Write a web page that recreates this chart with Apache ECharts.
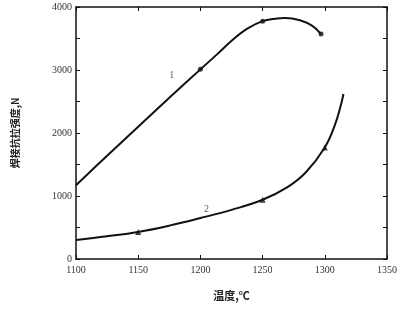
<!DOCTYPE html>
<html><head><meta charset="utf-8">
<script src="https://cdn.jsdelivr.net/npm/echarts@6/dist/echarts.min.js"></script>
<style>html,body{margin:0;padding:0;background:#fff}#c{width:400px;height:321px}</style>
</head><body><div id="c"></div>
<script>
// Curve 1
const curve1X = [1100, 1125, 1150, 1175, 1200, 1214, 1226, 1238, 1250, 1260, 1268, 1280, 1290, 1297];
const curve1Y = [1170, 1640, 2100, 2560, 3010, 3260, 3480, 3660, 3775, 3815, 3825, 3790, 3700, 3570];
const marker1X = [1200, 1250, 1297];
const marker1Y = [3010, 3775, 3570];
// Curve 2
const curve2X = [1100, 1125, 1150, 1175, 1200, 1225, 1250, 1270, 1285, 1300, 1308, 1313, 1315];
const curve2Y = [300, 360, 430, 530, 650, 780, 940, 1140, 1380, 1770, 2120, 2450, 2620];
const marker2X = [1150, 1250, 1300];
const marker2Y = [430, 940, 1770];
const labelsText = ['1', '2'];
const labelsX = [1177, 1205];
const labelsY = [2920, 780];

const pair = (xs, ys) => xs.map((x, i) => [x, ys[i]]);
const font = 'Liberation Serif, DejaVu Serif, serif';
const plain = v => String(v);
const chart = echarts.init(document.getElementById('c'));
const common = {min: 1100, max: 1350, interval: 50};
chart.setOption({
  animation: false,
  backgroundColor: '#fff',
  grid: {left: 76, right: 12, top: 7, bottom: 62},
  xAxis: [
    Object.assign({type: 'value', position: 'bottom', name: '温度,℃', nameLocation: 'middle', nameGap: 31,
      nameTextStyle: {fontFamily: 'Noto Sans CJK SC', fontSize: 11, color: '#222', fontWeight: 'bold'},
      axisLine: {show: true, onZero: false, lineStyle: {color: '#111', width: 1.5}},
      axisTick: {inside: true, length: 4, lineStyle: {color: '#111'}},
      axisLabel: {color: '#333', fontSize: 10, fontFamily: font, margin: 6, formatter: plain},
      splitLine: {show: false}}, common),
    Object.assign({type: 'value', position: 'top',
      axisLine: {show: true, onZero: false, lineStyle: {color: '#111', width: 1.5}},
      axisTick: {inside: true, length: 4, lineStyle: {color: '#111'}},
      axisLabel: {show: false}, splitLine: {show: false}}, common)
  ],
  yAxis: [
    {type: 'value', min: 0, max: 4000, interval: 1000, position: 'left',
      name: '焊接抗拉强度,N', nameLocation: 'middle', nameGap: 56, nameRotate: 90,
      nameTextStyle: {fontFamily: 'Noto Sans CJK SC', fontSize: 10, color: '#222', fontWeight: 'bold'},
      axisLine: {show: true, onZero: false, lineStyle: {color: '#111', width: 1.5}},
      axisTick: {inside: true, length: 4, lineStyle: {color: '#111'}},
      minorTick: {show: true, splitNumber: 2, length: 4, lineStyle: {color: '#111'}},
      axisLabel: {color: '#333', fontSize: 10, fontFamily: font, margin: 4, formatter: plain},
      splitLine: {show: false}},
    {type: 'value', min: 0, max: 4000, interval: 1000, position: 'right',
      axisLine: {show: true, onZero: false, lineStyle: {color: '#111', width: 1.5}},
      axisTick: {inside: true, length: 4, lineStyle: {color: '#111'}},
      minorTick: {show: true, splitNumber: 2, length: 4, lineStyle: {color: '#111'}},
      axisLabel: {show: false}, splitLine: {show: false}}
  ],
  series: [
    {type: 'line', data: pair(curve1X, curve1Y), smooth: 0.4, showSymbol: false,
      lineStyle: {color: '#111', width: 2}},
    {type: 'line', data: pair(curve2X, curve2Y), smooth: 0.4, showSymbol: false,
      lineStyle: {color: '#111', width: 2}},
    {type: 'scatter', data: pair(marker1X, marker1Y), symbol: 'circle', symbolSize: 5,
      itemStyle: {color: '#111'}},
    {type: 'scatter', data: pair(marker2X, marker2Y), symbol: 'triangle', symbolSize: 6,
      itemStyle: {color: '#111'}},
    {type: 'scatter', data: labelsX.map((x, i) => ({value: [x, labelsY[i]], name: labelsText[i]})),
      symbolSize: 0,
      label: {show: true, position: 'inside', formatter: p => p.name, color: '#333', fontSize: 10, fontFamily: font}}
  ]
});
</script></body></html>
